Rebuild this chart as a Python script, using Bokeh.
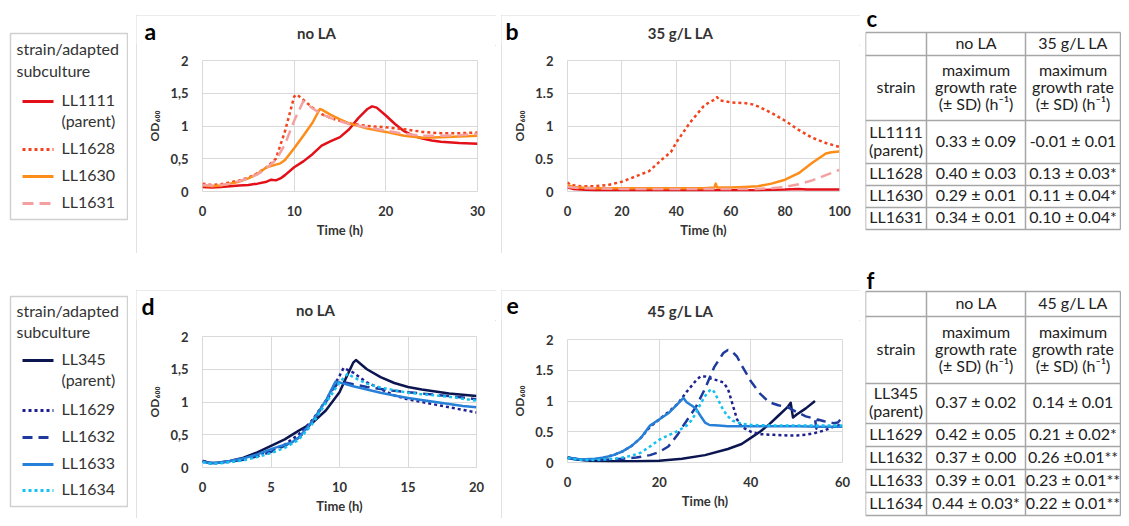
from bokeh.plotting import figure
from bokeh.layouts import row, column
from bokeh.models import Range1d, FixedTicker, CustomJSTickFormatter
from bokeh.embed import file_html
from bokeh.resources import INLINE
from bokeh.core.properties import value

# ---------------- data ----------------
# panel a : LL1111 family, no LA
a_1111_t = [0, 1, 2, 3, 4, 5, 6, 7, 7.5, 8, 8.5, 9, 10, 11, 12, 13, 14, 15, 16, 17, 18, 18.5, 19, 20, 21, 22, 23, 24, 25, 26, 28, 30]
a_1111_od = [0.07, 0.06, 0.07, 0.08, 0.09, 0.10, 0.12, 0.15, 0.18, 0.17, 0.20, 0.25, 0.37, 0.46, 0.57, 0.70, 0.77, 0.83, 0.95, 1.12, 1.26, 1.30, 1.28, 1.16, 1.03, 0.92, 0.85, 0.81, 0.78, 0.76, 0.74, 0.73]
a_1628_t = [0, 1, 2, 3, 4, 5, 6, 7, 8, 9, 10, 10.3, 11, 12, 13, 14, 15, 16, 18, 20, 22, 24, 26, 28, 30]
a_1628_od = [0.12, 0.10, 0.11, 0.14, 0.17, 0.21, 0.28, 0.37, 0.50, 0.92, 1.45, 1.48, 1.40, 1.28, 1.18, 1.12, 1.08, 1.04, 1.00, 0.98, 0.95, 0.91, 0.89, 0.89, 0.90]
a_1630_t = [0, 1, 2, 3, 4, 5, 6, 7, 8, 8.5, 9, 10, 11, 12, 12.8, 13, 14, 15, 16, 18, 20, 22, 24, 26, 28, 30]
a_1630_od = [0.09, 0.08, 0.09, 0.12, 0.15, 0.20, 0.27, 0.37, 0.41, 0.43, 0.48, 0.66, 0.85, 1.05, 1.26, 1.25, 1.17, 1.10, 1.04, 0.96, 0.91, 0.85, 0.82, 0.83, 0.84, 0.85]
a_1631_t = [0, 1, 2, 3, 4, 5, 6, 7, 8, 9, 10, 11, 12, 13, 14, 16, 18, 20, 22, 24, 26, 28, 30]
a_1631_od = [0.10, 0.09, 0.10, 0.12, 0.16, 0.20, 0.26, 0.36, 0.48, 0.72, 1.08, 1.38, 1.27, 1.18, 1.12, 1.03, 0.98, 0.93, 0.88, 0.85, 0.85, 0.86, 0.88]

# panel b : LL1111 family, 35 g/L LA
b_1111_t = [0, 2, 5, 10, 20, 30, 40, 50, 60, 70, 80, 85, 88, 90, 95, 100]
b_1111_od = [0.06, 0.04, 0.03, 0.02, 0.02, 0.02, 0.02, 0.02, 0.02, 0.02, 0.03, 0.04, 0.03, 0.03, 0.03, 0.03]
b_1628_t = [0, 1, 3, 5, 10, 15, 20, 25, 30, 35, 38, 40, 45, 50, 52, 54, 55, 56, 58, 60, 65, 68, 70, 75, 80, 85, 90, 95, 100]
b_1628_od = [0.14, 0.10, 0.09, 0.08, 0.08, 0.10, 0.15, 0.23, 0.31, 0.50, 0.60, 0.75, 1.05, 1.30, 1.36, 1.40, 1.44, 1.39, 1.38, 1.36, 1.35, 1.33, 1.30, 1.20, 1.08, 0.94, 0.82, 0.74, 0.68]
b_1630_t = [0, 2, 5, 10, 20, 30, 40, 50, 54, 54.5, 55, 60, 65, 70, 75, 80, 85, 90, 95, 97, 100]
b_1630_od = [0.10, 0.07, 0.06, 0.05, 0.05, 0.05, 0.05, 0.05, 0.06, 0.12, 0.06, 0.06, 0.07, 0.08, 0.12, 0.18, 0.28, 0.44, 0.58, 0.60, 0.61]
b_1631_t = [0, 5, 10, 20, 40, 60, 70, 75, 80, 85, 90, 95, 100]
b_1631_od = [0.07, 0.05, 0.05, 0.04, 0.04, 0.04, 0.04, 0.05, 0.07, 0.11, 0.17, 0.25, 0.33]

# panel d : LL345 family, no LA
d_345_t = [0, 0.5, 1, 2, 3, 4, 5, 6, 7, 8, 9, 10, 10.5, 11, 11.2, 12, 13, 14, 15, 16, 17, 18, 19, 20]
d_345_od = [0.10, 0.07, 0.07, 0.10, 0.15, 0.23, 0.33, 0.43, 0.56, 0.68, 0.87, 1.15, 1.38, 1.60, 1.64, 1.50, 1.38, 1.29, 1.23, 1.19, 1.16, 1.13, 1.11, 1.09]
d_1629_t = [0, 0.5, 1, 2, 3, 4, 5, 6, 7, 8, 9, 10, 10.3, 11, 12, 13, 14, 15, 16, 17, 18, 19, 20]
d_1629_od = [0.10, 0.07, 0.07, 0.09, 0.13, 0.19, 0.26, 0.35, 0.50, 0.72, 1.02, 1.40, 1.52, 1.45, 1.30, 1.20, 1.10, 1.04, 1.00, 0.96, 0.92, 0.88, 0.84]
d_1632_t = [0, 0.5, 1, 2, 3, 4, 5, 6, 7, 7.5, 8, 9, 9.5, 10, 11, 12, 13, 14, 15, 16, 17, 18, 19, 20]
d_1632_od = [0.10, 0.07, 0.07, 0.09, 0.12, 0.17, 0.24, 0.33, 0.45, 0.55, 0.70, 1.00, 1.18, 1.32, 1.27, 1.23, 1.20, 1.17, 1.15, 1.13, 1.11, 1.09, 1.07, 1.04]
d_1633_t = [0, 0.5, 1, 2, 3, 4, 5, 6, 6.5, 7, 8, 9, 9.7, 10, 11, 12, 13, 14, 15, 16, 17, 18, 19, 20]
d_1633_od = [0.09, 0.07, 0.07, 0.10, 0.14, 0.20, 0.28, 0.35, 0.38, 0.45, 0.70, 1.02, 1.31, 1.30, 1.24, 1.19, 1.14, 1.10, 1.06, 1.03, 1.00, 0.97, 0.94, 0.92]
d_1634_t = [0, 0.5, 1, 2, 3, 4, 5, 6, 7, 8, 9, 10, 10.6, 11, 12, 13, 14, 15, 16, 17, 18, 19, 20]
d_1634_od = [0.08, 0.06, 0.06, 0.08, 0.11, 0.16, 0.22, 0.30, 0.42, 0.66, 0.98, 1.30, 1.43, 1.38, 1.28, 1.22, 1.18, 1.14, 1.12, 1.10, 1.08, 1.05, 1.02]

# panel e : LL345 family, 45 g/L LA
e_345_t = [0, 2, 5, 10, 15, 20, 25, 30, 35, 38, 40, 42, 44, 46, 48, 48.7, 49.2, 50, 52, 54]
e_345_od = [0.08, 0.05, 0.03, 0.02, 0.02, 0.03, 0.06, 0.12, 0.22, 0.30, 0.40, 0.50, 0.62, 0.76, 0.90, 0.97, 0.73, 0.78, 0.88, 1.00]
e_1629_t = [0, 3, 6, 8, 10, 12, 14, 16, 18, 20, 22, 24, 26, 28, 29, 30, 31, 32, 33, 34, 35, 36, 37, 38, 40, 42, 45, 48, 50, 52, 54, 56, 58, 60]
e_1629_od = [0.08, 0.05, 0.05, 0.08, 0.12, 0.18, 0.27, 0.40, 0.58, 0.70, 0.82, 0.95, 1.15, 1.33, 1.40, 1.40, 1.37, 1.35, 1.33, 1.30, 1.20, 0.95, 0.70, 0.58, 0.50, 0.46, 0.45, 0.44, 0.44, 0.45, 0.48, 0.52, 0.58, 0.62]
e_1632_t = [0, 3, 6, 10, 15, 18, 20, 22, 24, 25, 26, 28, 30, 32, 34, 35, 36, 37, 38, 40, 42, 44, 46, 48, 50, 52, 54, 54.3, 54.6, 56, 58, 59, 60]
e_1632_od = [0.07, 0.04, 0.04, 0.05, 0.08, 0.12, 0.17, 0.26, 0.45, 0.57, 0.68, 0.90, 1.20, 1.55, 1.78, 1.83, 1.80, 1.72, 1.58, 1.32, 1.12, 0.98, 0.93, 0.90, 0.82, 0.75, 0.71, 0.55, 0.70, 0.67, 0.64, 0.65, 0.74]
e_1633_t = [0, 3, 6, 8, 10, 12, 14, 16, 17, 18, 20, 22, 24, 25.3, 26, 27, 28, 29, 30, 31, 33, 35, 40, 45, 50, 55, 60]
e_1633_od = [0.08, 0.05, 0.06, 0.08, 0.12, 0.18, 0.27, 0.40, 0.50, 0.60, 0.70, 0.80, 0.95, 1.05, 0.98, 0.93, 0.88, 0.76, 0.65, 0.61, 0.60, 0.59, 0.59, 0.59, 0.59, 0.58, 0.58]
e_1634_t = [0, 3, 6, 10, 12, 14, 16, 18, 20, 22, 24, 26, 27, 28, 29, 30, 31, 31.5, 32, 33, 34, 35, 36, 38, 40, 45, 50, 55, 60]
e_1634_od = [0.07, 0.04, 0.04, 0.06, 0.08, 0.11, 0.16, 0.26, 0.37, 0.44, 0.51, 0.60, 0.68, 0.80, 0.95, 1.08, 1.17, 1.19, 1.15, 1.00, 0.85, 0.75, 0.68, 0.63, 0.61, 0.60, 0.60, 0.60, 0.60]

legend_top_labels = [["LL1111", "(parent)"], ["LL1628"], ["LL1630"], ["LL1631"]]
legend_bottom_labels = [["LL345", "(parent)"], ["LL1629"], ["LL1632"], ["LL1633"], ["LL1634"]]
legend_title = ["strain/adapted", "subculture"]

table_header_cond_c = ["no LA", "35 g/L LA"]
table_header_cond_f = ["no LA", "45 g/L LA"]
table_header_rate = ["maximum", "growth rate", "(± SD) (h⁻¹)"]
table_c_strain = [["LL1111", "(parent)"], ["LL1628"], ["LL1630"], ["LL1631"]]
table_c_noLA = ["0.33 ± 0.09", "0.40 ± 0.03", "0.29 ± 0.01", "0.34 ± 0.01"]
table_c_LA = ["-0.01 ± 0.01", "0.13 ± 0.03*", "0.11 ± 0.04*", "0.10 ± 0.04*"]
table_f_strain = [["LL345", "(parent)"], ["LL1629"], ["LL1632"], ["LL1633"], ["LL1634"]]
table_f_noLA = ["0.37 ± 0.02", "0.42 ± 0.05", "0.37 ± 0.00", "0.39 ± 0.01", "0.44 ± 0.03*"]
table_f_LA = ["0.14 ± 0.01", "0.21 ± 0.02*", "0.26 ±0.01**", "0.23 ± 0.01**", "0.22 ± 0.01**"]

# ---------------- styles ----------------
FONT = "Lato"
TXT = "#333333"
GRID = "#d9d9d9"
TLINE = "#a6a6a6"
STYLE = {
    "LL1111": ("#e3101a", "solid"),
    "LL1628": ("#f4431c", "3 3"),
    "LL1630": ("#fd8d19", "solid"),
    "LL1631": ("#f5a0a0", "11 6"),
    "LL345": ("#0b1650", "solid"),
    "LL1629": ("#1f2090", "3 3"),
    "LL1632": ("#1d3a9c", "10 6"),
    "LL1633": ("#2680d8", "solid"),
    "LL1634": ("#14c1f0", "3 3"),
}
HEADER_H = 30


def no_align(p):
    try:
        p.frame_align = False
    except Exception:
        pass


def make_canvas(width, height, x0, y0, margin=0):
    p = figure(width=width, height=height, x_range=Range1d(x0, x0 + width), y_range=Range1d(y0 + height, y0),
               x_axis_type=None, y_axis_type=None, output_backend="svg", toolbar_location=None,
               min_border_left=0, min_border_right=0, min_border_top=0, min_border_bottom=0)
    p.outline_line_color = None
    p.title.visible = False
    p.margin = margin
    no_align(p)
    return p


def txt(p, x, y, s, size="16px", color=TXT, align="left", style="normal"):
    p.text(x=[x], y=[y - 2], text=[s], text_font=value(FONT), text_font_size=value(size), text_color=color,
           text_align=align, text_baseline="middle", text_font_style=style)


def make_panel(box, frame, x_end, x_ticks, comma, series, letter, letter_xy, title, title_xy, margin):
    bx0, by0, bx1, by1 = box
    fx0, fy0, fx1, fy1 = frame
    hdr = make_canvas(bx1 - bx0, HEADER_H, bx0, by0)
    txt(hdr, letter_xy[0], letter_xy[1], letter, size="23px", color="#000000", style="bold")
    txt(hdr, title_xy[0], title_xy[1], title, size="15px", color=TXT, style="bold", align="center")

    py0 = by0 + HEADER_H
    p = figure(width=bx1 - bx0, height=by1 - py0,
               x_range=Range1d(0, x_end), y_range=Range1d(0, 2),
               min_border_left=fx0 - bx0, min_border_right=bx1 - fx1,
               min_border_top=fy0 - py0, min_border_bottom=by1 - fy1,
               output_backend="svg", toolbar_location=None)
    no_align(p)
    p.title.visible = False
    p.outline_line_color = GRID
    p.outline_line_width = 1
    p.grid.grid_line_color = GRID
    p.xaxis.ticker = FixedTicker(ticks=x_ticks)
    p.yaxis.ticker = FixedTicker(ticks=[0, 0.5, 1, 1.5, 2])
    if comma:
        p.yaxis.formatter = CustomJSTickFormatter(code="return String(tick).replace('.', ',')")
    else:
        p.yaxis.formatter = CustomJSTickFormatter(code="return String(tick)")
    for ax in (p.xaxis, p.yaxis):
        ax.axis_line_color = None
        ax.major_tick_line_color = None
        ax.minor_tick_line_color = None
        ax.major_label_text_font = FONT
        ax.major_label_text_font_size = "13px"
        ax.major_label_text_font_style = "bold"
        ax.major_label_text_color = TXT
        ax.axis_label_text_font = FONT
        ax.axis_label_text_font_style = "bold"
        ax.axis_label_text_color = TXT
    p.xaxis.axis_label = "Time (h)"
    p.xaxis.axis_label_text_font_size = "13px"
    p.xaxis.major_label_standoff = 8
    p.xaxis.axis_label_standoff = 3
    p.yaxis.axis_label = "OD₆₀₀"
    p.yaxis.axis_label_text_font_size = "12px"
    p.yaxis.major_label_standoff = 8
    p.yaxis.axis_label_standoff = 5
    for name, t, od in series:
        color, dash = STYLE[name]
        p.line(t, od, line_color=color, line_width=2.5, line_dash=dash, line_join="round")
    return column(hdr, p, margin=margin,
                  styles={"outline": "1.5px solid #d9d9d9", "outline-offset": "-1px"})


def draw_legend(p, box, title_y, names, labels, ys):
    x0, y0, x1, y1 = box
    p.quad(left=[x0], right=[x1], top=[y0], bottom=[y1], fill_color=None, line_color="#d0d0d0", line_width=1.5)
    for s, y in zip(legend_title, title_y):
        txt(p, 16, y, s)
    for name, lab, y in zip(names, labels, ys):
        color, dash = STYLE[name]
        p.line([22, 53], [y, y], line_color=color, line_width=3, line_dash=dash)
        for k, s in enumerate(lab):
            txt(p, 61, y + 21 * k, s)


def draw_table(p, xs, ys, letter, letter_xy, cond, strains, v1, v2):
    n = len(ys)
    p.segment(x0=[xs[0]] * n, x1=[xs[-1]] * n, y0=ys, y1=ys, line_color=TLINE, line_width=1.5)
    p.segment(x0=xs, x1=xs, y0=[ys[0]] * len(xs), y1=[ys[-1]] * len(xs), line_color=TLINE, line_width=1.5)
    txt(p, letter_xy[0], letter_xy[1], letter, size="22px", color="#000000", style="bold")
    cx = [(xs[i] + xs[i + 1]) / 2 for i in range(3)]
    cy = [(ys[i] + ys[i + 1]) / 2 for i in range(n - 1)]
    col = "#222222"
    txt(p, cx[1], cy[0], cond[0], color=col, align="center")
    txt(p, cx[2], cy[0], cond[1], color=col, align="center")
    txt(p, cx[0], cy[1], "strain", color=col, align="center")
    for k, s in enumerate(table_header_rate):
        txt(p, cx[1], cy[1] - 17 + 17 * k, s, color=col, align="center")
        txt(p, cx[2], cy[1] - 17 + 17 * k, s, color=col, align="center")
    for i, (st, a, b) in enumerate(zip(strains, v1, v2)):
        y = cy[2 + i]
        if len(st) == 2:
            txt(p, cx[0], y - 9, st[0], color=col, align="center")
            txt(p, cx[0], y + 9, st[1], color=col, align="center")
        else:
            txt(p, cx[0], y, st[0], color=col, align="center")
        txt(p, cx[1], y, a, color=col, align="center")
        txt(p, cx[2], y, b, color=col, align="center")


# ---------------- top row ----------------
lg1 = make_canvas(120, 245, 8, 8, (8, 0, 0, 0))
draw_legend(lg1, (10, 33, 127, 219), [50, 72], ["LL1111", "LL1628", "LL1630", "LL1631"],
            legend_top_labels, [101, 149, 176, 203])

pa = make_panel((136, 15, 496, 253), (202, 60, 477, 191), 30, [0, 10, 20, 30], True,
                [("LL1111", a_1111_t, a_1111_od), ("LL1628", a_1628_t, a_1628_od),
                 ("LL1630", a_1630_t, a_1630_od), ("LL1631", a_1631_t, a_1631_od)],
                "a", (144, 32), "no LA", (316, 34), (15, 0, 0, 8))
pb = make_panel((501, 15, 860, 253), (567, 60, 839, 191), 100, [0, 20, 40, 60, 80, 100], False,
                [("LL1111", b_1111_t, b_1111_od), ("LL1628", b_1628_t, b_1628_od),
                 ("LL1630", b_1630_t, b_1630_od), ("LL1631", b_1631_t, b_1631_od)],
                "b", (505, 32), "35 g/L LA", (680, 34), (15, 0, 0, 5))

tc = make_canvas(256, 253, 865, 0, (0, 0, 0, 5))
draw_table(tc, [865, 926, 1025, 1120], [32, 55, 120, 163, 185, 207, 229], "c", (866, 20),
           table_header_cond_c, table_c_strain, table_c_noLA, table_c_LA)

# ---------------- bottom row ----------------
lg2 = make_canvas(120, 265, 8, 253)
draw_legend(lg2, (10, 296, 127, 506), [312, 333], ["LL345", "LL1629", "LL1632", "LL1633", "LL1634"],
            legend_bottom_labels, [360, 410, 437, 464, 490])

pd_ = make_panel((136, 290, 496, 518), (202, 336, 476, 467), 20, [0, 5, 10, 15, 20], True,
                 [("LL345", d_345_t, d_345_od), ("LL1629", d_1629_t, d_1629_od), ("LL1632", d_1632_t, d_1632_od),
                  ("LL1633", d_1633_t, d_1633_od), ("LL1634", d_1634_t, d_1634_od)],
                 "d", (141, 307), "no LA", (315, 311), (37, 0, 0, 8))
pe = make_panel((501, 290, 860, 518), (567, 339, 842, 462), 60, [0, 20, 40, 60], False,
                [("LL345", e_345_t, e_345_od), ("LL1629", e_1629_t, e_1629_od), ("LL1632", e_1632_t, e_1632_od),
                  ("LL1633", e_1633_t, e_1633_od), ("LL1634", e_1634_t, e_1634_od)],
                "e", (506, 307), "45 g/L LA", (680, 312), (37, 0, 0, 5))

tf = make_canvas(256, 265, 865, 253, (0, 0, 0, 5))
draw_table(tf, [865, 926, 1025, 1120], [291, 316, 383, 423, 446, 469, 492, 515], "f", (866, 282),
           table_header_cond_f, table_f_strain, table_f_noLA, table_f_LA)

layout = column(row(lg1, pa, pb, tc), row(lg2, pd_, pe, tf), margin=(0, 0, 0, 8))
open("out.html", "w").write(file_html(layout, INLINE))
